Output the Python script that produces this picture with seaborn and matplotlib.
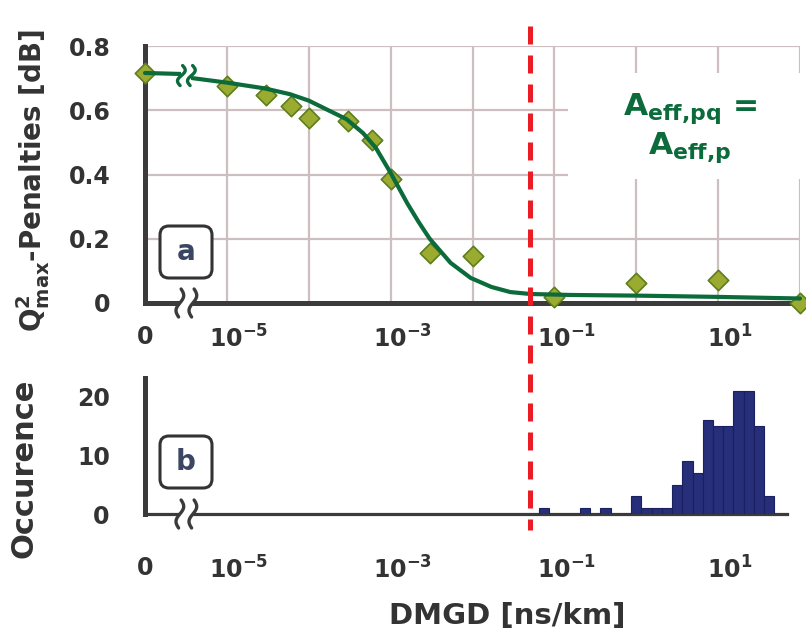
import numpy as np
import pandas as pd
import matplotlib
matplotlib.use("Agg")
import matplotlib.pyplot as plt
import matplotlib.transforms as mtransforms
from matplotlib.patches import Rectangle, FancyBboxPatch
from matplotlib.lines import Line2D
import seaborn as sns

# ---------------------------------------------------------------- data
# (a) measured Q^2 penalties versus DMGD [ns/km]; 0 sits left of the axis break
dmgd_meas = [0, 1e-5, 3e-5, 6e-5, 1e-4, 3e-4, 6e-4, 1e-3, 3e-3, 1e-2, 1e-1, 1, 10, 100]
penalty_meas = [0.716, 0.677, 0.649, 0.614, 0.577, 0.568, 0.508, 0.386, 0.157,
                0.147, 0.019, 0.062, 0.072, 0.0]

# (a) fitted trend through the measurements
dmgd_fit = [0, 2.7e-6, 3.8e-6, 1e-5, 2.9e-5, 5.9e-5, 1e-4, 1.8e-4, 2.9e-4, 4.6e-4,
            6.6e-4, 1e-3, 1.6e-3, 2.2e-3, 3e-3, 5.4e-3, 9.5e-3, 1.7e-2, 2.9e-2,
            5.1e-2, 0.16, 1, 10, 100]
penalty_fit = [0.716, 0.713, 0.700, 0.686, 0.668, 0.650, 0.630, 0.598, 0.572, 0.529,
               0.483, 0.405, 0.310, 0.252, 0.200, 0.125, 0.078, 0.050, 0.034,
               0.028, 0.025, 0.023, 0.019, 0.014]

# (b) histogram of measured fibre DMGD: bin edges in log10(DMGD) and counts
hist_edges_log10 = [-1.1875, -1.0625, -0.9375, -0.8125, -0.6875, -0.5625, -0.4375,
                    -0.3125, -0.1875, -0.0625, 0.0625, 0.1875, 0.3125, 0.4375,
                    0.5625, 0.6875, 0.8125, 0.9375, 1.0625, 1.1875, 1.3125,
                    1.4375, 1.5625, 1.6875]
hist_counts = [1, 0, 0, 0, 1, 0, 1, 0, 0, 3, 1, 1, 1, 5, 9, 7, 16, 15, 15, 21, 21, 15, 3]

dmgd_limit = 0.05          # dashed threshold [ns/km]

x_ticks = [1e-5, 1e-4, 1e-3, 1e-2, 1e-1, 1, 10, 100]
x_ticklabels = ["$10^{-5}$", "", "$10^{-3}$", "", "$10^{-1}$", "", "$10^{1}$", ""]
ya_ticks = [0, 0.2, 0.4, 0.6, 0.8]
ya_ticklabels = ["0", "0.2", "0.4", "0.6", "0.8"]
yb_ticks = [0, 5, 10, 15, 20]
yb_ticklabels = ["0", "", "10", "", "20"]

# ---------------------------------------------------------------- style
W, H = 806, 639
ZERO_AT = 1e-6            # where DMGD = 0 is placed on the log axis
BREAK_AT = 3.2e-6         # axis break position

GREEN = "#0b6b3b"
OLIVE = "#9bab30"
OLIVE_EDGE = "#5d7d20"
AXIS = "#3b3b3b"
TXT = "#333333"
NAVY = "#272e7a"
GRID = "#cdbfbf"

sns.set_style("white")
plt.rcParams.update({
    "font.family": ["DejaVu Sans"],
    "font.weight": "bold",
    "mathtext.fontset": "dejavusans",
    "mathtext.default": "bf",
    "axes.edgecolor": AXIS,
})

fig = plt.figure(figsize=(W / 100, H / 100), dpi=100)


def px_rect(x0, y0, x1, y1):
    return [x0 / W, 1 - y1 / H, (x1 - x0) / W, (y1 - y0) / H]


ax_a = fig.add_axes(px_rect(145, 46, 800, 303))
ax_b = fig.add_axes(px_rect(145, 378, 800, 514))

for ax in (ax_a, ax_b):
    ax.set_xscale("log")

# ---------------------------------------------------------------- panel a
meas = pd.DataFrame({"dmgd": [ZERO_AT if v == 0 else v for v in dmgd_meas],
                     "penalty": penalty_meas})
fit = pd.DataFrame({"dmgd": [ZERO_AT if v == 0 else v for v in dmgd_fit],
                    "penalty": penalty_fit})

sns.scatterplot(data=meas, x="dmgd", y="penalty", ax=ax_a, marker="D", s=108,
                color=OLIVE, edgecolor=OLIVE_EDGE, linewidth=1.2, zorder=4,
                clip_on=False)
sns.lineplot(data=fit, x="dmgd", y="penalty", ax=ax_a, color=GREEN, lw=3.0,
             sort=False, zorder=5, clip_on=False)

ax_a.set_xlim(ZERO_AT, 100)
ax_a.set_ylim(0, 0.8)
ax_a.set_xticks([ZERO_AT] + x_ticks)
ax_a.set_xticklabels(["0"] + x_ticklabels)
ax_a.set_yticks(ya_ticks)
ax_a.set_yticklabels(ya_ticklabels)
ax_a.minorticks_off()
ax_a.grid(True, color=GRID, lw=1.6)
ax_a.set_axisbelow(True)
ax_a.set_xlabel("")
ax_a.set_ylabel("")
for side in ("top", "right"):
    ax_a.spines[side].set_visible(False)
ax_a.spines["left"].set_linewidth(3.6)
ax_a.spines["bottom"].set_linewidth(3.6)
ax_a.tick_params(axis="x", direction="out", length=10, width=2.9, pad=6,
                 labelsize=17, labelcolor=TXT, color=AXIS)
ax_a.tick_params(axis="y", direction="out", length=9, width=2.9, pad=16,
                 labelsize=17, labelcolor=TXT, color=AXIS)
t0 = ax_a.xaxis.get_major_ticks()[0]
t0.tick1line.set_visible(False)
t0.gridline.set_visible(False)

# white panel behind the area label
ax_a.add_patch(Rectangle(((568 - 145) / 655, (303 - 179) / 257), 0.4,
                         (179 - 73) / 257, transform=ax_a.transAxes,
                         facecolor="white", edgecolor="none", zorder=1,
                         clip_on=False))
ax_a.text((690 - 145) / 655, (303 - 128) / 257,
          "$A_{eff{,}pq}$ =\n$A_{eff{,}p}$", transform=ax_a.transAxes,
          ha="center", va="center", multialignment="center",
          fontsize=22.5, color=GREEN, zorder=6)

# ---------------------------------------------------------------- panel b
hist_df = pd.DataFrame({
    "dmgd": [10 ** ((lo + hi) / 2) for lo, hi in
             zip(hist_edges_log10[:-1], hist_edges_log10[1:])],
    "count": hist_counts,
})
sns.histplot(data=hist_df, x="dmgd", weights="count", bins=hist_edges_log10,
             log_scale=True, ax=ax_b, color=NAVY, edgecolor="#1b2060",
             linewidth=0.8, alpha=1.0, zorder=3)

ax_b.set_xlim(ZERO_AT, 100)
ax_b.set_ylim(0, 23.2)
ax_b.set_xticks([ZERO_AT] + x_ticks[:-1])
ax_b.set_xticklabels(["0"] + x_ticklabels[:-1])
ax_b.set_yticks(yb_ticks)
ax_b.set_yticklabels(yb_ticklabels)
ax_b.minorticks_off()
ax_b.grid(False)
ax_b.set_xlabel("")
ax_b.set_ylabel("")
for side in ("top", "right"):
    ax_b.spines[side].set_visible(False)
ax_b.spines["left"].set_linewidth(3.6)
ax_b.spines["bottom"].set_linewidth(2.3)
ax_b.spines["bottom"].set_bounds(ZERO_AT, 70)
ax_b.tick_params(axis="x", direction="inout", length=11, width=2.3, pad=25,
                 labelsize=17, labelcolor=TXT, color=AXIS)
ax_b.tick_params(axis="y", direction="inout", length=8.6, width=2.6, pad=21,
                 labelsize=17, labelcolor=TXT, color=AXIS)
ax_b.xaxis.get_major_ticks()[0].tick1line.set_visible(False)

# shift the power-of-ten labels slightly right
shift = mtransforms.ScaledTranslation(12 / 100, 0, fig.dpi_scale_trans)
for ax in (ax_a, ax_b):
    for lab in ax.get_xticklabels()[1:]:
        lab.set_transform(lab.get_transform() + shift)


# ---------------------------------------------------------------- axis breaks
def axis_break(ax, xpos, ypos, color, height, gap, lw):
    trans = mtransforms.Affine2D() + mtransforms.ScaledTranslation(xpos, ypos, ax.transData)
    ax.add_patch(Rectangle((-gap / 2, -4.5), gap, 9, transform=trans,
                           facecolor="white", edgecolor="none", zorder=6,
                           clip_on=False))
    t = np.linspace(0, 1, 60)
    ys = height / 2 - height * t
    xs = 3.2 * np.sin(2 * np.pi * t) + 2.5 * (0.5 - t)
    for dx in (-gap / 2, gap / 2):
        ax.add_line(Line2D(xs + dx, ys, transform=trans, color=color, lw=lw,
                           solid_capstyle="round", zorder=7, clip_on=False))


axis_break(ax_a, BREAK_AT, 0, AXIS, 28, 13, 2.4)
axis_break(ax_b, BREAK_AT, 0, AXIS, 28, 13, 2.4)
axis_break(ax_a, BREAK_AT, 0.708, GREEN, 20, 10, 2.4)

# ---------------------------------------------------------------- panel tags
px = mtransforms.IdentityTransform()
for cx, cy, tag in ((186, 252, "a"), (186, 462, "b")):
    fig.patches.append(FancyBboxPatch((cx - 24, H - cy - 24), 48, 48,
                                      boxstyle="round,pad=2,rounding_size=9",
                                      transform=px, facecolor="white",
                                      edgecolor="#333333", lw=2.2, zorder=8))
    fig.text(cx, H - cy, tag, transform=px, ha="center", va="center",
             fontsize=20, color="#3a4662", zorder=9)

# ---------------------------------------------------------------- threshold line
blend = mtransforms.blended_transform_factory(ax_a.transData, px)
fig.add_artist(Line2D([dmgd_limit, dmgd_limit], [H - 26, H - 530], transform=blend,
                      color="#ec1c24", lw=3.6, dashes=(3.6, 2.2), zorder=10))

# ---------------------------------------------------------------- axis titles
fig.text(33, H - 180, "$Q^2_{max}$-Penalties [dB]", transform=px, rotation=90,
         ha="center", va="center", fontsize=20, color=TXT)
fig.text(24, H - 468, "Occurence", transform=px, rotation=90,
         ha="center", va="center", fontsize=22, color=TXT)
fig.text(507, H - 616, "DMGD [ns/km]", transform=px, ha="center", va="center",
         fontsize=21, color=TXT)

fig.savefig("out.png", dpi=100)
